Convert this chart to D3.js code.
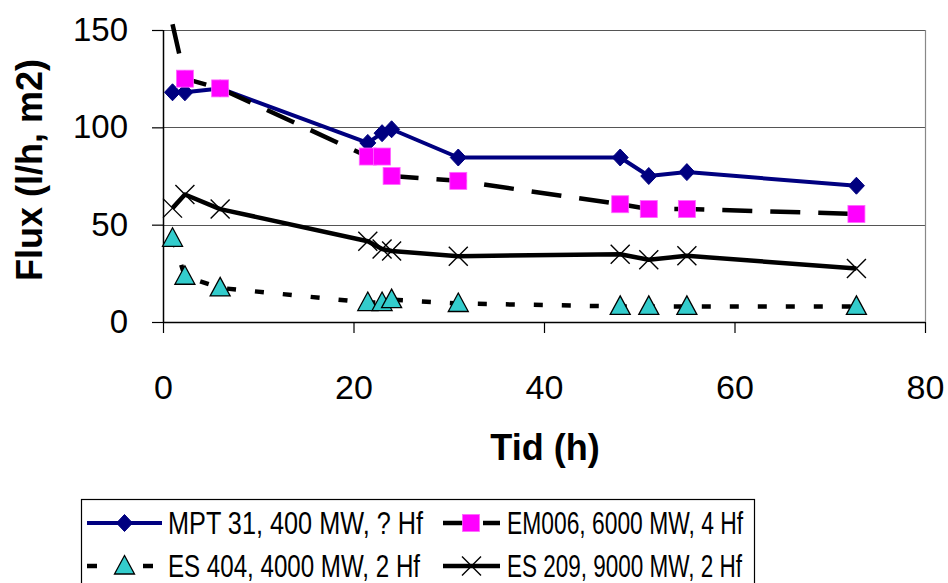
<!DOCTYPE html>
<html>
<head>
<meta charset="utf-8">
<script src="https://cdn.jsdelivr.net/npm/d3@7"></script>
<style>
  html, body { margin: 0; padding: 0; background: #fff; }
  svg { display: block; }
  text { font-family: "Liberation Sans", Arial, sans-serif; fill: #000; }
</style>
</head>
<body>
<svg id="chart" width="948" height="583"></svg>
<script>
// ---- data ----
const mptX  = [1, 2.3, 6, 21.5, 23, 24, 31, 48, 51, 55, 72.8];
const mptY  = [118, 118, 120, 92, 97, 99, 84.5, 84.5, 75, 77, 70];
const emX   = [1, 2.3, 6, 21.5, 23, 24, 31, 48, 51, 55, 72.8];
const emY   = [153, 125, 120, 85, 85, 75, 72.5, 60.5, 58, 58, 55.5];
const es404X = [1, 2.3, 6, 21.5, 23, 24, 31, 48, 51, 55, 72.8];
const es404Y = [43, 23.5, 17.5, 10, 10, 11.5, 9.5, 8, 8, 8, 8];
const es209X = [1, 2.3, 6, 21.5, 23, 24, 31, 48, 51, 55, 72.8];
const es209Y = [58.5, 65.5, 58, 41.5, 37.5, 36.5, 33.8, 34.8, 32, 34, 27.5];
const xTicks = [0, 20, 40, 60, 80];
const yTicks = [0, 50, 100, 150];
const seriesNames = ["MPT 31, 400 MW, ? Hf", "EM006, 6000 MW, 4 Hf", "ES 404, 4000 MW, 2 Hf", "ES 209, 9000 MW, 2 Hf"];
const xTitle = "Tid (h)";
const yTitle = "Flux (l/h, m2)";

const svg = d3.select("#chart");
const x = d3.scaleLinear().domain([0, 80]).range([163, 925]);
const y = d3.scaleLinear().domain([0, 150]).range([322, 30]);

// gridlines
svg.append("g").selectAll("line").data(yTicks.filter(d => d > 0)).join("line")
  .attr("x1", x(0)).attr("x2", x(80))
  .attr("y1", d => Math.round(y(d)) + 0.5).attr("y2", d => Math.round(y(d)) + 0.5)
  .attr("stroke", "#555").attr("stroke-width", 1);
// right border
svg.append("line").attr("x1", x(80) + 0.5).attr("x2", x(80) + 0.5)
  .attr("y1", y(150)).attr("y2", y(0)).attr("stroke", "#888").attr("stroke-width", 1.2);

// axes
const xAxis = svg.append("g").attr("transform", `translate(0,${y(0)})`)
  .call(d3.axisBottom(x).tickValues(xTicks).tickSize(11).tickPadding(42).tickFormat(d3.format("d")));
const yAxis = svg.append("g").attr("transform", `translate(${x(0)},0)`)
  .call(d3.axisLeft(y).tickValues(yTicks).tickSize(11).tickPadding(24).tickFormat(d3.format("d")));
[xAxis, yAxis].forEach(a => {
  a.select(".domain").attr("stroke", "#000").attr("stroke-width", 1.5);
  a.selectAll(".tick line").attr("stroke", "#000").attr("stroke-width", 1.2);
  a.selectAll("text").style("font-size", "33px").attr("fill", "#000")
    .style("font-family", '"Liberation Sans", Arial, sans-serif');
});
xAxis.selectAll(".tick text").style("font-size", "34px");
xAxis.select(".domain").attr("d", `M${x(0)},0.5H${x(80)}`);
yAxis.select(".domain").attr("d", `M0.5,${y(150)}V${y(0)}`);

// titles
svg.append("text").attr("x", 545).attr("y", 460).attr("text-anchor", "middle")
  .style("font-size", "36px").style("font-weight", "bold").text(xTitle);
svg.append("text").attr("transform", "translate(42,170) rotate(-90)").attr("text-anchor", "middle")
  .style("font-size", "36px").style("font-weight", "bold").text(yTitle);

// series
const line = d3.line().x(d => x(d[0])).y(d => y(d[1]));
const zip = (a, b) => a.map((v, i) => [v, b[i]]);
const series = [
  { pts: zip(mptX, mptY), stroke: "#000080", dash: null, width: 4, marker: "diamond" },
  { pts: zip(emX, emY), stroke: "#000", dash: "30,18", width: 4.5, marker: "square" },
  { pts: zip(es404X, es404Y), stroke: "#000", dash: "9,19", width: 4.5, marker: "triangle" },
  { pts: zip(es209X, es209Y), stroke: "#000", dash: null, width: 4.5, marker: "x" }
];

function drawMarker(g, type, cx, cy) {
  if (type === "diamond") {
    g.append("path").attr("d", `M${cx},${cy-8.5}L${cx+8},${cy}L${cx},${cy+8.5}L${cx-8},${cy}Z`)
      .attr("fill", "#000080").attr("stroke", "#000080").attr("stroke-width", 1);
  } else if (type === "square") {
    g.append("rect").attr("x", cx - 8.5).attr("y", cy - 8.5).attr("width", 17).attr("height", 17)
      .attr("fill", "#FF00FF").attr("stroke", "#FF66FF").attr("stroke-width", 0.8);
  } else if (type === "triangle") {
    g.append("path").attr("d", `M${cx},${cy-10.5}L${cx+10},${cy+8}L${cx-10},${cy+8}Z`)
      .attr("fill", "#33CCCC").attr("stroke", "#000").attr("stroke-width", 1.3);
  } else if (type === "x") {
    g.append("path").attr("d", `M${cx-9.5},${cy-9.5}L${cx+9.5},${cy+9.5}M${cx+9.5},${cy-9.5}L${cx-9.5},${cy+9.5}`)
      .attr("stroke", "#000").attr("stroke-width", 1.4).attr("fill", "none");
  }
}

series.forEach(s => {
  svg.append("path").datum(s.pts).attr("d", line)
    .attr("fill", "none").attr("stroke", s.stroke).attr("stroke-width", s.width)
    .attr("stroke-dasharray", s.dash).attr("stroke-linejoin", "round");
});
series.forEach(s => {
  const g = svg.append("g");
  s.pts.filter(p => p[1] <= 150).forEach(p => drawMarker(g, s.marker, x(p[0]), y(p[1])));
});

// legend
const lg = svg.append("g");
lg.append("rect").attr("x", 81.5).attr("y", 499.5).attr("width", 673).attr("height", 100)
  .attr("fill", "#fff").attr("stroke", "#000").attr("stroke-width", 1.2);
const legendPos = [
  { x1: 87, x2: 162, tx: 168, by: 534, tl: 255 },
  { x1: 443, x2: 500, tx: 507, by: 534, tl: 236 },
  { x1: 87, x2: 162, tx: 168, by: 577, tl: 252 },
  { x1: 443, x2: 500, tx: 507, by: 577, tl: 235 }
];
series.forEach((s, i) => {
  const p = legendPos[i];
  const cy = p.by - 11;
  const mx = (p.x1 + p.x2) / 2;
  if (i === 2) {
    lg.append("line").attr("x1", p.x1).attr("x2", p.x1 + 10).attr("y1", cy).attr("y2", cy)
      .attr("stroke", s.stroke).attr("stroke-width", s.width);
    lg.append("line").attr("x1", p.x2 - 19).attr("x2", p.x2 - 9).attr("y1", cy).attr("y2", cy)
      .attr("stroke", s.stroke).attr("stroke-width", s.width);
  } else if (i === 1) {
    lg.append("line").attr("x1", p.x1).attr("x2", p.x2).attr("y1", cy).attr("y2", cy)
      .attr("stroke", s.stroke).attr("stroke-width", s.width).attr("stroke-dasharray", "27,13,17");
  } else {
    lg.append("line").attr("x1", p.x1).attr("x2", p.x2).attr("y1", cy).attr("y2", cy)
      .attr("stroke", s.stroke).attr("stroke-width", s.width);
  }
  drawMarker(lg, s.marker, i === 1 ? 471 : mx, cy);
  lg.append("text").attr("x", p.tx).attr("y", p.by)
    .attr("textLength", p.tl).attr("lengthAdjust", "spacingAndGlyphs")
    .style("font-size", "31px").text(seriesNames[i]);
});
</script>
</body>
</html>
